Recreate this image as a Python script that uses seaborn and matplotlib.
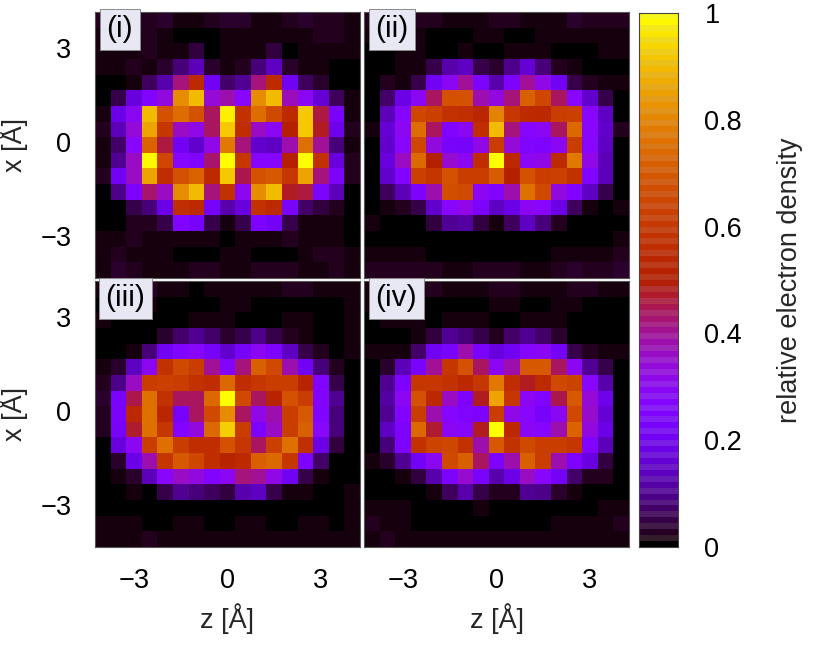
import numpy as np
import matplotlib
matplotlib.use("Agg")
import matplotlib.pyplot as plt
from matplotlib.colors import ListedColormap
import seaborn as sns

panel_i = [
[.02,.03,.03,.02,.03,.01,.01,.02,.03,.03,.01,.01,.02,.03,.02,.02,.01],
[.01,.01,.02,.02,.01,.00,.00,.00,.01,.01,.01,.01,.01,.01,.02,.02,.01],
[.01,.01,.01,.02,.01,.01,.04,.00,.01,.01,.01,.04,.00,.01,.01,.01,.01],
[.01,.01,.02,.01,.03,.08,.13,.03,.01,.02,.08,.14,.03,.01,.01,.00,.00],
[.00,.00,.01,.06,.12,.42,.55,.20,.07,.10,.42,.55,.20,.06,.03,.00,.00],
[.00,.05,.17,.25,.33,.82,.90,.34,.38,.28,.82,.90,.37,.30,.16,.06,.01],
[.01,.18,.30,.90,.68,.75,.68,.44,.98,.58,.75,.66,.55,.92,.46,.23,.01],
[.02,.13,.34,.86,.60,.36,.32,.44,.92,.56,.36,.30,.50,.92,.48,.19,.02],
[.01,.07,.28,.73,.46,.20,.15,.32,.78,.42,.15,.14,.38,.76,.40,.08,.01],
[.01,.10,.36,.99,.65,.27,.25,.43,1.0,.60,.27,.27,.50,1.0,.58,.17,.02],
[.02,.20,.36,.86,.56,.68,.73,.55,.92,.45,.68,.70,.60,.86,.42,.24,.02],
[.00,.09,.24,.43,.36,.82,.90,.42,.58,.30,.82,.90,.48,.46,.24,.13,.00],
[.00,.00,.05,.08,.18,.57,.55,.22,.12,.17,.58,.55,.23,.07,.04,.02,.00],
[.00,.00,.02,.02,.05,.25,.22,.05,.01,.05,.24,.21,.05,.01,.01,.01,.00],
[.01,.01,.02,.01,.01,.01,.01,.01,.00,.01,.01,.01,.02,.01,.01,.01,.00],
[.01,.02,.01,.01,.01,.00,.00,.00,.01,.01,.00,.00,.00,.01,.02,.02,.01],
[.01,.03,.02,.01,.01,.01,.02,.02,.01,.01,.02,.02,.02,.01,.01,.02,.01],
]
panel_ii = [
[.02,.02,.02,.02,.02,.01,.01,.01,.02,.02,.01,.01,.01,.03,.02,.02,.02],
[.01,.01,.01,.01,.00,.00,.00,.01,.01,.00,.00,.01,.01,.01,.01,.01,.01],
[.00,.00,.01,.01,.00,.00,.01,.00,.00,.01,.01,.01,.00,.00,.00,.01,.01],
[.00,.00,.01,.01,.05,.12,.14,.05,.03,.09,.16,.08,.02,.01,.00,.00,.00],
[.00,.02,.01,.05,.20,.30,.40,.24,.12,.24,.40,.32,.20,.05,.02,.01,.01],
[.00,.07,.18,.30,.44,.68,.68,.38,.33,.42,.72,.65,.44,.28,.15,.05,.00],
[.00,.13,.27,.65,.63,.58,.57,.53,.80,.60,.55,.54,.62,.63,.28,.14,.00],
[.01,.16,.30,.75,.44,.25,.30,.56,.90,.42,.27,.30,.44,.74,.28,.15,.02],
[.00,.15,.28,.65,.33,.23,.22,.32,.62,.34,.25,.24,.30,.62,.28,.14,.00],
[.00,.17,.36,.74,.50,.35,.30,.56,1.0,.54,.30,.32,.55,.78,.32,.13,.00],
[.00,.15,.25,.63,.59,.68,.62,.62,.71,.50,.68,.62,.63,.58,.25,.13,.00],
[.00,.06,.13,.24,.38,.67,.66,.30,.26,.38,.76,.66,.33,.25,.14,.05,.00],
[.00,.01,.02,.05,.15,.28,.32,.24,.14,.18,.30,.28,.18,.06,.01,.00,.01],
[.01,.00,.00,.00,.04,.10,.11,.04,.01,.06,.14,.08,.02,.00,.00,.00,.00],
[.00,.00,.00,.00,.00,.00,.00,.00,.00,.00,.00,.00,.00,.00,.00,.00,.01],
[.01,.01,.01,.01,.00,.00,.00,.00,.00,.00,.00,.00,.01,.01,.01,.01,.02],
[.02,.02,.02,.02,.02,.01,.01,.02,.02,.02,.01,.01,.02,.03,.02,.02,.03],
]
panel_iii = [
[.01,.01,.02,.03,.01,.01,.00,.01,.01,.01,.01,.01,.02,.02,.01,.01,.01],
[.00,.00,.01,.01,.00,.00,.00,.00,.01,.01,.00,.00,.00,.00,.00,.00,.01],
[.01,.00,.00,.00,.00,.00,.01,.01,.01,.00,.00,.00,.01,.01,.00,.00,.01],
[.00,.00,.00,.00,.03,.07,.10,.07,.03,.05,.09,.05,.02,.01,.00,.00,.01],
[.00,.00,.01,.08,.20,.25,.28,.22,.15,.22,.30,.24,.14,.05,.02,.00,.01],
[.01,.03,.14,.30,.58,.66,.62,.40,.26,.42,.72,.66,.38,.20,.08,.02,.00],
[.02,.09,.36,.62,.63,.62,.58,.56,.74,.56,.60,.62,.62,.52,.25,.05,.00],
[.03,.23,.45,.76,.58,.44,.44,.74,1.0,.66,.44,.52,.68,.62,.26,.10,.00],
[.02,.23,.54,.76,.53,.22,.44,.66,.82,.44,.32,.38,.62,.70,.25,.08,.00],
[.02,.22,.47,.76,.60,.26,.33,.74,.93,.62,.24,.36,.62,.72,.28,.08,.00],
[.00,.17,.30,.62,.76,.62,.56,.56,.68,.60,.44,.63,.76,.57,.18,.04,.00],
[.00,.03,.18,.38,.60,.70,.65,.56,.52,.55,.72,.74,.60,.24,.07,.00,.00],
[.00,.01,.03,.13,.28,.36,.33,.26,.30,.42,.40,.32,.20,.05,.01,.00,.00],
[.00,.00,.01,.00,.05,.10,.08,.06,.04,.12,.14,.05,.01,.01,.00,.00,.01],
[.00,.00,.00,.00,.00,.00,.00,.00,.00,.00,.00,.00,.00,.00,.00,.00,.01],
[.01,.01,.01,.00,.00,.01,.01,.00,.00,.01,.01,.00,.00,.01,.01,.00,.01],
[.01,.01,.01,.02,.01,.01,.01,.01,.01,.01,.01,.01,.01,.01,.01,.01,.01],
]
panel_iv = [
[.01,.01,.02,.02,.02,.01,.01,.01,.02,.02,.01,.01,.01,.02,.02,.01,.01],
[.01,.01,.01,.01,.00,.00,.00,.00,.01,.01,.00,.00,.01,.01,.00,.00,.00],
[.00,.01,.01,.01,.00,.01,.01,.01,.00,.00,.01,.01,.01,.00,.00,.00,.00],
[.00,.00,.00,.01,.04,.10,.08,.05,.02,.07,.10,.07,.03,.00,.00,.00,.00],
[.01,.01,.01,.07,.20,.23,.38,.23,.17,.20,.27,.30,.21,.05,.02,.01,.01],
[.00,.03,.13,.23,.40,.60,.68,.44,.30,.38,.70,.70,.44,.30,.10,.05,.00],
[.00,.10,.24,.60,.60,.58,.54,.60,.78,.56,.48,.55,.66,.64,.28,.12,.00],
[.00,.11,.30,.68,.54,.36,.24,.48,.86,.60,.30,.26,.45,.70,.34,.19,.00],
[.00,.10,.25,.62,.38,.27,.25,.24,.62,.32,.28,.22,.30,.66,.35,.16,.00],
[.00,.14,.24,.74,.47,.30,.27,.48,1.0,.54,.30,.27,.38,.73,.33,.18,.00],
[.00,.08,.24,.58,.64,.65,.58,.38,.70,.58,.66,.62,.62,.60,.25,.13,.00],
[.01,.03,.10,.21,.30,.66,.72,.44,.24,.38,.72,.62,.38,.24,.17,.04,.00],
[.00,.00,.01,.04,.12,.24,.35,.23,.12,.18,.36,.28,.21,.07,.02,.02,.00],
[.00,.00,.00,.00,.01,.06,.12,.05,.02,.02,.10,.09,.03,.01,.00,.00,.00],
[.01,.01,.01,.00,.00,.00,.00,.01,.00,.00,.00,.00,.00,.00,.00,.01,.01],
[.02,.01,.01,.00,.00,.00,.00,.00,.00,.00,.00,.00,.01,.01,.01,.01,.02],
[.01,.02,.01,.01,.01,.01,.01,.01,.01,.01,.01,.01,.01,.01,.01,.01,.01],
]
panel_names = ["(i)", "(ii)", "(iii)", "(iv)"]
grid_ticks = [-3, 0, 3]
grid_tick_labels = ["\u22123", "0", "3"]
cbar_ticks = [0, 0.2, 0.4, 0.6, 0.8, 1]
cbar_labels = ["0", "0.2", "0.4", "0.6", "0.8", "1"]
x_label = "x [\u00c5]"
z_label = "z [\u00c5]"
cbar_label = "relative electron density"

sns.set_theme(style="white")
plt.rcParams["font.family"] = ["Liberation Sans", "DejaVu Sans"]
FS = 19.5
W, H = 830, 646

def palette(v):
    v = np.asarray(v)
    return np.clip(np.stack([np.sqrt(v), v ** 3, np.sin(2 * np.pi * v)], axis=1), 0, 1)

smooth = ListedColormap(palette(np.linspace(0, 1, 256)))
n_bands = 90
band_vals = np.linspace(0, 1, n_bands)
band_cols = palette(band_vals)
mask = (np.arange(n_bands) // 1) % 2 == 1
band_cols[mask] = band_cols[mask] * 0.86 + 0.14 * np.array([0.75, 0.75, 0.75])
striped = ListedColormap(band_cols)

fig = plt.figure(figsize=(W / 100, H / 100), dpi=100, facecolor="white")

def px_axes(x0, y0, x1, y1):
    return fig.add_axes([x0 / W, 1 - y1 / H, (x1 - x0) / W, (y1 - y0) / H])

boxes = [(95, 12, 360, 278), (364, 12, 629, 278), (95, 281, 360, 547), (364, 281, 629, 547)]
data = [panel_i, panel_ii, panel_iii, panel_iv]
tick_pos = [(t + 4.25) / 0.5 for t in grid_ticks]
tick_pos_y = [(4.25 - t) / 0.5 for t in grid_ticks]

for k, (box, d, name) in enumerate(zip(boxes, data, panel_names)):
    ax = px_axes(*box)
    sns.heatmap(np.array(d), ax=ax, cmap=smooth, vmin=0, vmax=1, cbar=False,
                square=False, linewidths=0, rasterized=False)
    ax.set_xticks(tick_pos)
    ax.set_yticks(tick_pos_y)
    ax.set_xticklabels(grid_tick_labels if k >= 2 else [], rotation=0, fontsize=FS)
    ax.set_yticklabels(grid_tick_labels if k % 2 == 0 else [], rotation=0, fontsize=FS)
    ax.tick_params(axis="both", which="both", direction="in", length=5, width=0.7,
                   color="#222222", top=True, right=True, bottom=True, left=True,
                   labelcolor="black")
    ax.tick_params(axis="x", pad=15)
    ax.tick_params(axis="y", pad=17)
    for s in ax.spines.values():
        s.set_visible(True)
        s.set_color("#555555")
        s.set_linewidth(0.8)
    if k >= 2:
        ax.set_xlabel(z_label, fontsize=FS, labelpad=7)
    if k % 2 == 0:
        ax.set_ylabel(x_label, fontsize=FS, labelpad=9)
    ax.text(0.0435 if k != 2 else 0.04, 0.935, name, transform=ax.transAxes, fontsize=FS + 2,
            color="black", ha="left", va="center",
            bbox=dict(boxstyle="square,pad=0.22", fc="#e8e8f4", ec="#8a8a8a", lw=0.7))

cax = px_axes(639, 13, 678, 547)
ramp = band_vals[::-1][:, None]
sns.heatmap(ramp, ax=cax, cmap=striped, vmin=0, vmax=1, cbar=False, linewidths=0)
cax.set_xticks([])
cax.set_yticks([(1 - t) * n_bands for t in cbar_ticks])
cax.set_yticklabels(cbar_labels, rotation=0, fontsize=FS)
cax.yaxis.tick_right()
cax.tick_params(axis="y", direction="in", length=6, width=0.7, color="#222222",
                left=True, right=True, pad=19, labelcolor="black")
for s in cax.spines.values():
    s.set_visible(True)
    s.set_color("#444444")
    s.set_linewidth(0.8)
cax.yaxis.set_label_position("right")
cax.set_ylabel(cbar_label, fontsize=FS, rotation=90, labelpad=25)

fig.savefig("out.png", dpi=100, facecolor="white")
